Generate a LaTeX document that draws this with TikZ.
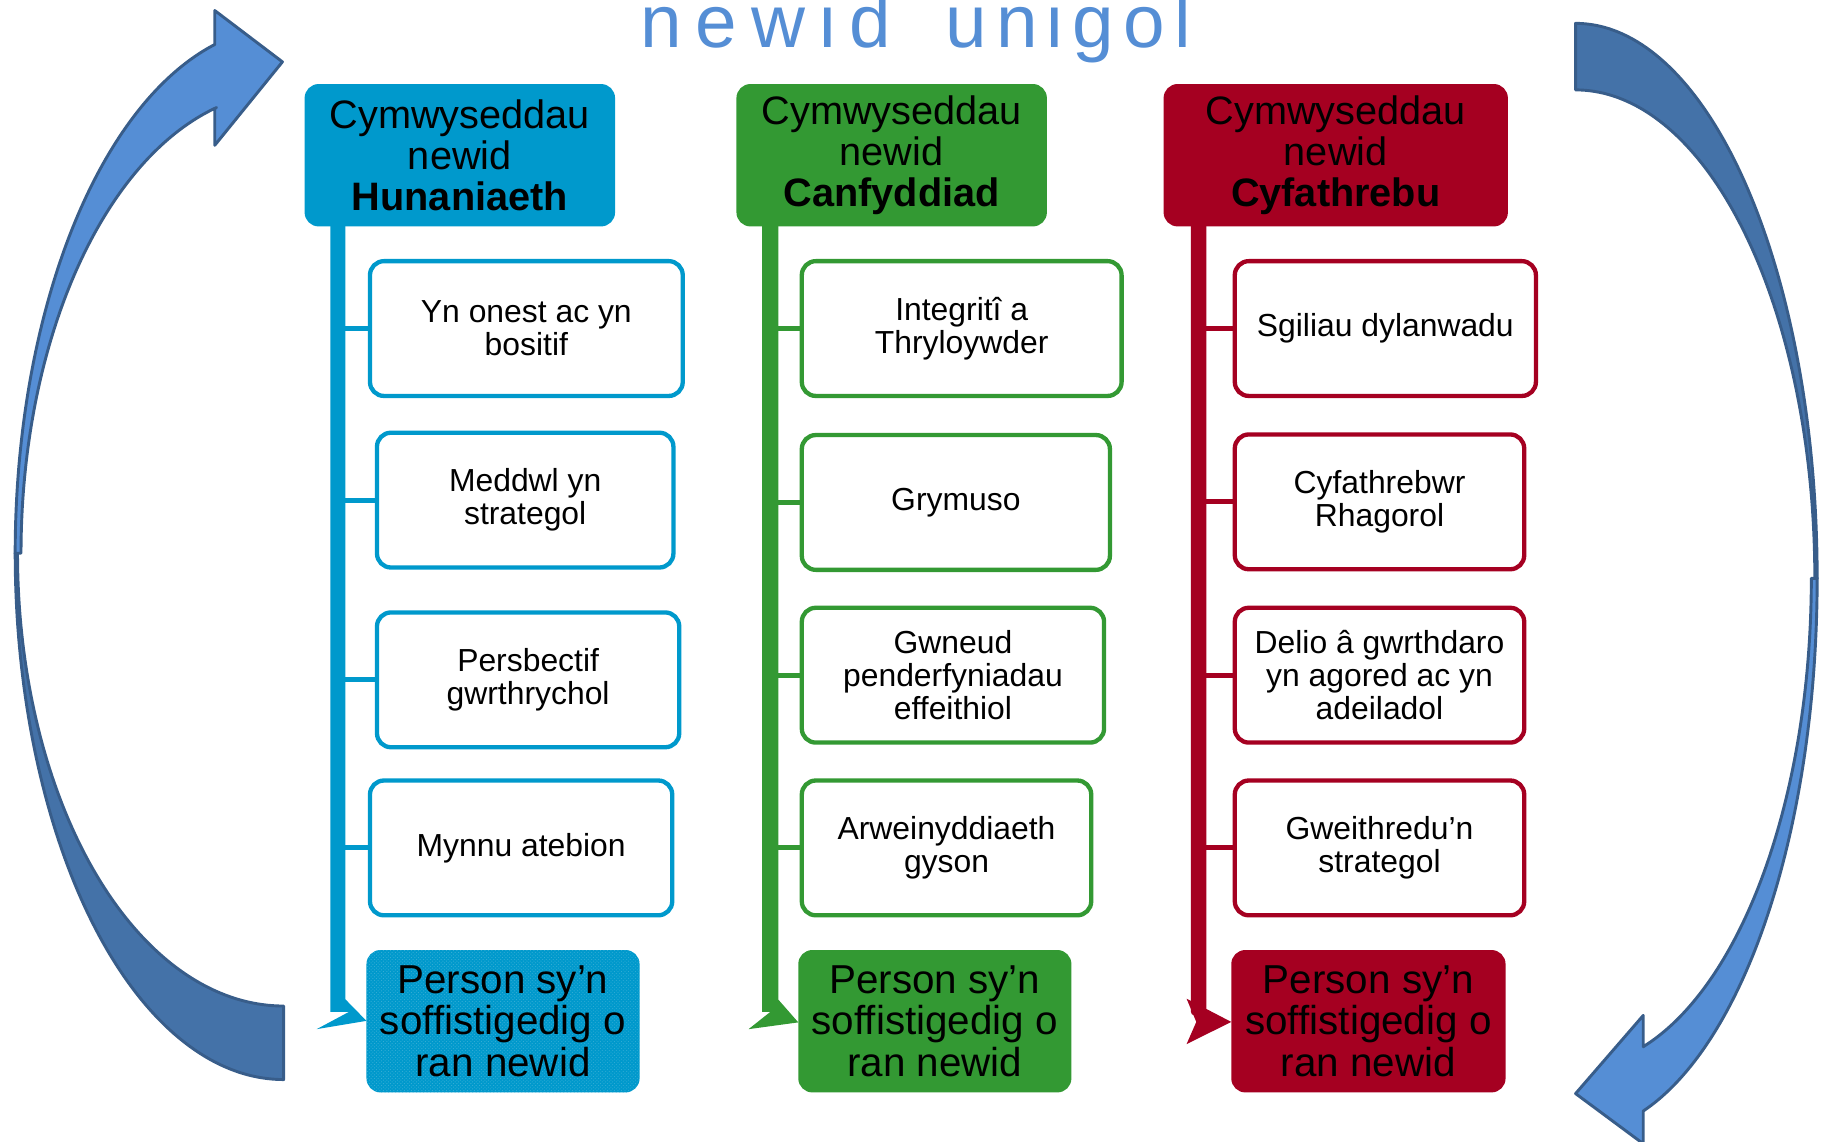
\documentclass[tikz,border=0pt]{standalone}
\usepackage{fontspec}
\setmainfont{Liberation Sans}
\usetikzlibrary{calc,patterns}
\definecolor{cblue}{HTML}{0099CC}
\definecolor{cgreen}{HTML}{339933}
\definecolor{cred}{HTML}{A50021}
\definecolor{arrlight}{HTML}{558ED5}
\definecolor{arrdark}{HTML}{4472A8}
\definecolor{arrline}{HTML}{385D8A}
\definecolor{titleblue}{HTML}{558ED5}
\begin{document}
\begin{tikzpicture}[x=1pt,y=-1pt,
  head/.style={fill=#1, rounded corners=12pt, align=center, inner sep=0pt,
    minimum height=122pt, font=\fontsize{34}{35}\selectfont},
  item/.style={draw=#1, line width=3.7pt, fill=white, rounded corners=12pt,
    align=center, inner sep=0pt, minimum height=115.5pt,
    font=\fontsize{27.3}{28.5}\selectfont},
  result/.style={fill=#1, rounded corners=12pt, align=center, inner sep=0pt,
    minimum height=122pt, font=\fontsize{34.6}{35.5}\selectfont},
  tick/.style={draw=#1, line width=4.2pt},
  band/.style={draw=arrline, line width=2.5pt, line join=round},
]
\useasboundingbox (0,0) rectangle (1568,978);

% ---- curved arrows on both sides ----
\filldraw[band, fill=arrdark]
  plot[domain=90:180, samples=80] ({243+230*cos(\x)},{474+451*sin(\x)})
  -- plot[domain=180:90, samples=80] ({243+228*cos(\x)},{474+388*sin(\x)}) -- cycle;
\filldraw[band, fill=arrlight]
  plot[domain=180:255.14, samples=80] ({243+230*cos(\x)},{474+451*sin(\x)})
  -- (184,9) -- (242,53) -- (184,124.5) -- (184,93)
  -- plot[domain=255.2:180, samples=80] ({243+225*cos(\x)},{474+395*sin(\x)}) -- cycle;

\filldraw[band, fill=arrdark]
  plot[domain=270:360, samples=80] ({1350+207*cos(\x)},{495.5+475.5*sin(\x)})
  -- plot[domain=360:270, samples=80] ({1350+205*cos(\x)},{495.5+418.5*sin(\x)}) -- cycle;
\filldraw[band, fill=arrlight]
  plot[domain=0:73.73, samples=80] ({1350+207*cos(\x)},{495.5+475.5*sin(\x)})
  -- (1408,980) -- (1350,937) -- (1408,870) -- (1408,897)
  -- plot[domain=73.3:0, samples=80] ({1350+202*cos(\x)},{495.5+419*sin(\x)}) -- cycle;

% ---- title, letter-spaced ----
\node[anchor=base west, text=titleblue, inner sep=0pt, font=\fontsize{64}{64}\selectfont]
  (title) at (548.5,41)
  {n\kern12pt e\kern12pt w\kern12pt i\kern12pt d\kern46pt u\kern8pt n\kern8pt i\kern8pt g\kern8pt o\kern8pt l};

% ---- spines with arrow ends ----
\fill[cblue] (283,190) -- (283,867) -- (299,867) -- (271.3,881.8) -- (314,874.7)
  -- (296,856.3) -- (296,190) -- cycle;
\fill[cgreen] (653,190) -- (653,867) -- (660,867) -- (641.4,881.8) -- (684,876)
  -- (667,856.6) -- (667,190) -- cycle;
\fill[cred, rounded corners=3pt] (1020.4,190) rectangle (1033.7,870);
\fill[cred] (1016.7,855.7) -- (1055,875.6) -- (1016.7,894.6) -- (1025,875.6) -- cycle;
\coordinate (sp1) at (290,0);
\coordinate (sp2) at (660,0);
\coordinate (sp3) at (1027,0);

% ---- headers ----
\node[head=cblue, minimum width=266pt] (h1) at (394,133)
  {Cymwyseddau\\newid\\\textbf{Hunaniaeth}};
\node[head=cgreen, minimum width=266pt] (h2) at (764,133)
  {Cymwyseddau\\newid\\\textbf{Canfyddiad}};
\node[head=cred, minimum width=295pt] (h3) at (1144.5,133)
  {Cymwyseddau\\newid\\\textbf{Cyfathrebu}};

% ---- items ----
\node[item=cblue, minimum width=268pt] (b11) at (451,281.5) {Yn onest ac yn\\bositif};
\node[item=cblue, minimum width=254pt] (b12) at (450,428.5) {Meddwl yn\\strategol};
\node[item=cblue, minimum width=259pt] (b13) at (452.5,582.5) {Persbectif\\gwrthrychol};
\node[item=cblue, minimum width=259pt] (b14) at (446.5,726.5) {Mynnu atebion};

\node[item=cgreen, minimum width=274pt] (b21) at (824,281.5) {Integritî a\\Thryloywder};
\node[item=cgreen, minimum width=264pt] (b22) at (819,430.5) {Grymuso};
\node[item=cgreen, minimum width=259pt] (b23) at (816.5,578.5) {Gwneud\\penderfyniadau\\effeithiol};
\node[item=cgreen, minimum width=248pt] (b24) at (811,726.5) {Arweinyddiaeth\\gyson};

\node[item=cred, minimum width=258pt] (b31) at (1187,281.5) {Sgiliau dylanwadu};
\node[item=cred, minimum width=248pt] (b32) at (1182,430) {Cyfathrebwr\\Rhagorol};
\node[item=cred, minimum width=248pt] (b33) at (1182,578.5) {Delio â gwrthdaro\\yn agored ac yn\\adeiladol};
\node[item=cred, minimum width=248pt] (b34) at (1182,726.5) {Gweithredu’n\\strategol};

% ---- branch ticks ----
\foreach \b in {b11,b12,b13,b14} \draw[tick=cblue] (\b.west) -- (\b.west -| sp1);
\foreach \b in {b21,b22,b23,b24} \draw[tick=cgreen] (\b.west) -- (\b.west -| sp2);
\foreach \b in {b31,b32,b33,b34} \draw[tick=cred] (\b.west) -- (\b.west -| sp3);

% ---- results ----
\node[result=cblue, minimum width=234pt,
  postaction={pattern=crosshatch dots, pattern color=white!22!cblue}]
  (r1) at (431,875) {Person sy’n\\soffistigedig o\\ran newid};
\node[result=cgreen, minimum width=234pt] (r2) at (801,875) {Person sy’n\\soffistigedig o\\ran newid};
\node[result=cred, minimum width=235pt] (r3) at (1172.5,875) {Person sy’n\\soffistigedig o\\ran newid};
\end{tikzpicture}
\end{document}
